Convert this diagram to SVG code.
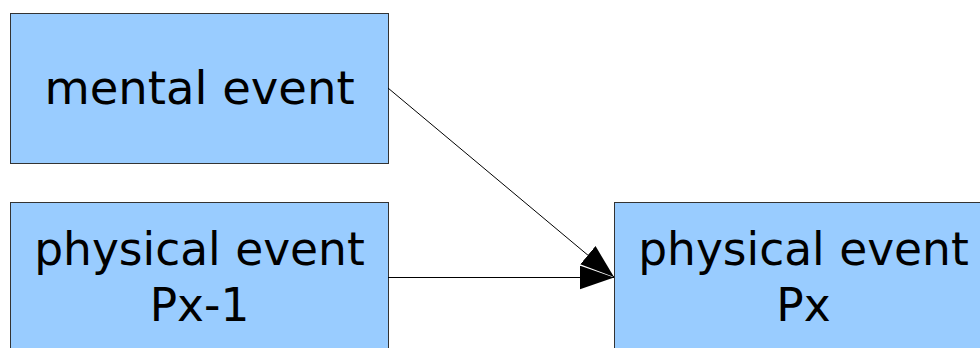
<svg xmlns="http://www.w3.org/2000/svg" width="980" height="348" viewBox="0 0 980 348">
<defs>
<style>
.box{fill:#99ccff;stroke:#333333;stroke-width:1}
.lbl{font-family:"DejaVu Sans",sans-serif;font-size:45.5px;fill:#000000;text-anchor:middle}
.big{font-size:46.5px}
.conn{stroke:#000000;stroke-width:1;fill:none}
</style>
<marker id="ah" markerUnits="userSpaceOnUse" markerWidth="34" markerHeight="24" viewBox="0 0 33 23" refX="33" refY="11.5" orient="auto">
<path d="M0,0 L33,11.5 L0,23 Z" fill="#000000"/>
</marker>
</defs>
<rect width="980" height="348" fill="#ffffff"/>
<g id="mental-event">
<rect class="box" x="10.5" y="13.5" width="378" height="150"/>
<text class="lbl big" x="199.5" y="104">mental event</text>
</g>
<g id="physical-event-px-1">
<rect class="box" x="10.5" y="202.5" width="378" height="152"/>
<text class="lbl" x="199.5" y="265">physical event</text>
<text class="lbl" x="199.5" y="321">Px-1</text>
</g>
<g id="physical-event-px">
<rect class="box" x="614.5" y="202.5" width="378" height="152"/>
<text class="lbl" x="803.5" y="265">physical event</text>
<text class="lbl" x="803.5" y="321">Px</text>
</g>
<g id="connectors">
<line class="conn" x1="388" y1="88" x2="614" y2="277" marker-end="url(#ah)"/>
<line class="conn" x1="388" y1="277.5" x2="614" y2="277.5" marker-end="url(#ah)"/>
</g>
</svg>
